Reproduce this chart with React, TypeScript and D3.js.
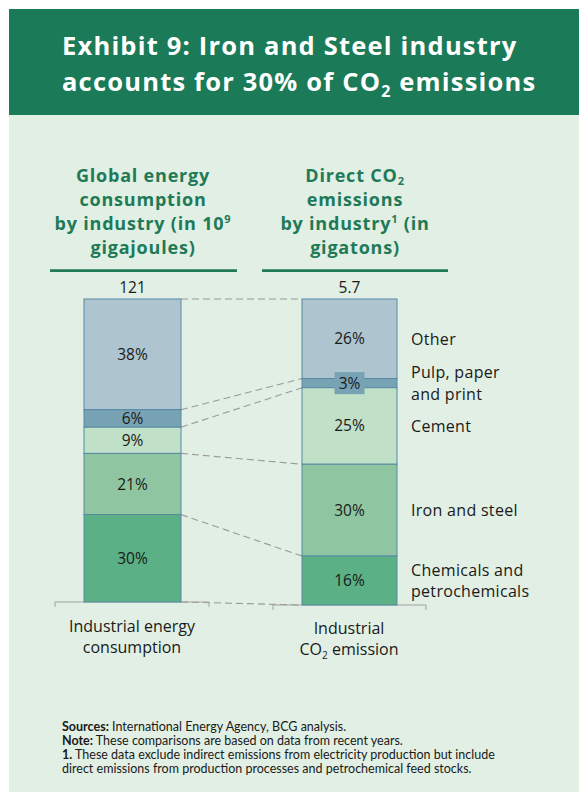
import React from "react";
import * as d3 from "d3";

const categories = ["Other", "Pulp, paper and print", "Cement", "Iron and steel", "Chemicals and petrochemicals"];
const categoryLabelLines = [["Other"], ["Pulp, paper", "and print"], ["Cement"], ["Iron and steel"], ["Chemicals and", "petrochemicals"]];
const energyShares = [38, 6, 9, 21, 30];
const emissionShares = [26, 3, 25, 30, 16];
const energyTotal = "121";
const emissionTotal = "5.7";
const segmentColors = ["#aec5cf", "#78a3b4", "#c0e0c7", "#8fc6a1", "#5bb085"];

const FONT = "'Open Sans', Lato, sans-serif";
const NOTE_FONT = "Lato, 'Open Sans', sans-serif";
const GREEN = "#1b7a57";
const HEAD_GREEN = "#1f7a57";

function stackOf(values: number[], top: number, bottom: number) {
  const total = d3.sum(values);
  const y = d3.scaleLinear().domain([0, total]).range([top, bottom]);
  const ends = d3.cumsum(values);
  return values.map((v, i) => {
    const start = i === 0 ? 0 : ends[i - 1];
    return { value: v, y0: y(start), y1: y(ends[i]), cat: categories[i] };
  });
}

export default function App() {
  const top = 299;
  const leftX = d3.scaleLinear().domain([0, 1]).range([84, 181]);
  const rightX = d3.scaleLinear().domain([0, 1]).range([302, 397]);
  const left = stackOf(energyShares, top, 602);
  const right = stackOf(emissionShares, top, 605);
  const dashPairs: [number, number][] = [[top, top]];
  left.forEach((s, i) => dashPairs.push([s.y1, right[i].y1]));

  const lcx = (leftX(0) + leftX(1)) / 2;
  const rcx = (rightX(0) + rightX(1)) / 2;
  const lblFont = 15.5;

  return (
    <svg width={579} height={792} style={{ position: "absolute", left: 0, top: 0 }} fontFamily={FONT}>
      <rect x={9} y={9} width={570} height={783} fill="#e1efe4" />
      <rect x={9} y={9} width={570} height={106} fill={GREEN} />
      <g fill="#fff" fontSize={25.5} fontWeight={700} letterSpacing={1.2}>
        <text x={62} y={55}>Exhibit 9: Iron and Steel industry</text>
        <text x={62} y={90.5}>
          accounts for 30% of CO<tspan fontSize={16} dy={6}>2</tspan><tspan dy={-6}> emissions</tspan>
        </text>
      </g>

      {/* column headings */}
      <g fill={HEAD_GREEN} fontSize={18} fontWeight={700} textAnchor="middle" letterSpacing={0.8}>
        <text x={143} y={181.7}>Global energy</text>
        <text x={143} y={206}>consumption</text>
        <text x={143} y={230}>by industry (in 10<tspan fontSize={11} dy={-7}>9</tspan></text>
        <text x={143} y={254}>gigajoules)</text>
        <text x={355} y={181.7}>Direct CO<tspan fontSize={11} dy={3.5}>2</tspan></text>
        <text x={355} y={206}>emissions</text>
        <text x={355} y={230}>by industry<tspan fontSize={11} dy={-7}>1</tspan><tspan dy={7}> (in</tspan></text>
        <text x={355} y={254}>gigatons)</text>
      </g>
      <line x1={50} x2={237} y1={270.7} y2={270.7} stroke={HEAD_GREEN} strokeWidth={2.8} />
      <line x1={262} x2={448} y1={270.7} y2={270.7} stroke={HEAD_GREEN} strokeWidth={2.8} />

      <g fill="#1a1a1a" fontSize={lblFont} textAnchor="middle">
        <text x={lcx} y={292.7}>{energyTotal}</text>
        <text x={rcx} y={292.7}>{emissionTotal}</text>
      </g>

      {/* dashed connectors */}
      {dashPairs.map(([a, b], i) => (
        <line key={i} x1={leftX(1)} y1={a} x2={rightX(0)} y2={b} stroke="#9a9a9a" strokeWidth={1.1} strokeDasharray="7,4" />
      ))}

      {/* bottom brackets */}
      <path d={`M55,607V602H209V607`} fill="none" stroke="#a3a3a3" strokeWidth={1} />
      <path d={`M273,610V605H426V610`} fill="none" stroke="#a3a3a3" strokeWidth={1} />

      {/* bars */}
      {left.map((s, i) => (
        <rect key={"l" + i} x={leftX(0)} y={s.y0} width={leftX(1) - leftX(0)} height={s.y1 - s.y0} fill={segmentColors[i]} stroke="#5789a3" strokeWidth={1} />
      ))}
      {right.map((s, i) => (
        <rect key={"r" + i} x={rightX(0)} y={s.y0} width={rightX(1) - rightX(0)} height={s.y1 - s.y0} fill={segmentColors[i]} stroke="#5789a3" strokeWidth={1} />
      ))}

      {/* segment labels */}
      <g fill="#1a1a1a" fontSize={lblFont} textAnchor="middle">
        {left.map((s, i) => (
          <text key={"lt" + i} x={lcx} y={(s.y0 + s.y1) / 2 + 5.5}>{s.value}%</text>
        ))}
        {right.map((s, i) => (
          <g key={"rt" + i}>
            {s.value < 5 && (
              <rect x={rcx - 15} y={(s.y0 + s.y1) / 2 - 11} width={30} height={22} fill={segmentColors[i]} />
            )}
            <text x={rcx} y={(s.y0 + s.y1) / 2 + 5.5}>{s.value}%</text>
          </g>
        ))}
      </g>

      {/* category labels */}
      <g fill="#1a1a1a" fontSize={16} letterSpacing={0.3}>
        {right.map((s, i) => {
          const lines = categoryLabelLines[i];
          const c = (s.y0 + s.y1) / 2;
          const lh = 21.5;
          return lines.map((ln, j) => (
            <text key={i + "-" + j} x={411} y={c + 5.8 + (j - (lines.length - 1) / 2) * lh}>{ln}</text>
          ));
        })}
      </g>

      {/* bottom labels */}
      <g fill="#1a1a1a" fontSize={16} textAnchor="middle">
        <text x={132} y={632}>Industrial energy</text>
        <text x={132} y={653}>consumption</text>
        <text x={349} y={634}>Industrial</text>
        <text x={349} y={655}>CO<tspan fontSize={10} dy={4}>2</tspan><tspan dy={-4}> emission</tspan></text>
      </g>

      {/* footnotes */}
      <g fill="#1a1a1a" fontSize={12.5} fontFamily={NOTE_FONT}>
        <text x={62} y={731}><tspan fontWeight={700}>Sources:</tspan> International Energy Agency, BCG analysis.</text>
        <text x={62} y={745}><tspan fontWeight={700}>Note:</tspan> These comparisons are based on data from recent years.</text>
        <text x={62} y={759}><tspan fontWeight={700}>1.</tspan> These data exclude indirect emissions from electricity production but include</text>
        <text x={62} y={772.7}>direct emissions from production processes and petrochemical feed stocks.</text>
      </g>
    </svg>
  );
}
